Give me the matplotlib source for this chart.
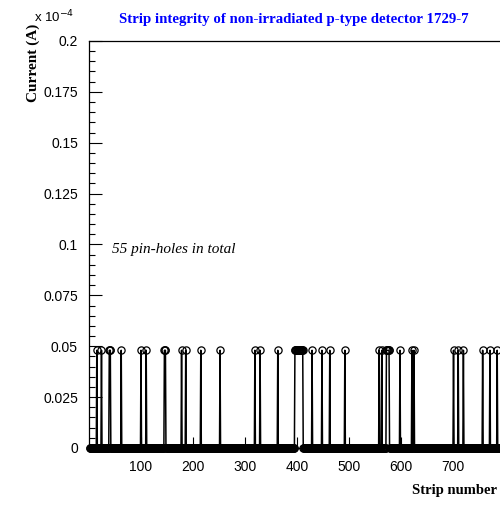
import numpy as np
import matplotlib
matplotlib.use('Agg')
import matplotlib.pyplot as plt
from matplotlib.ticker import MultipleLocator, FormatStrFormatter

# strips scanned and the ones that showed a pin-hole
n_strips = 800
pinhole_strips = [15, 24, 39, 40, 41, 62, 100, 110, 145, 146, 147, 178, 186, 215, 252,
                  319, 329, 363,
                  396, 397, 398, 399, 400, 401, 402, 403, 404, 405, 406, 407, 408, 409, 410, 411,
                  429, 448, 463, 492, 558, 563,
                  572, 573, 574, 575, 576, 577,
                  598, 621, 625, 701, 710, 720, 757, 771, 785]
pinhole_current = 0.048  # in units of 1e-4 A
y_ticks = [0, 0.025, 0.05, 0.075, 0.1, 0.125, 0.15, 0.175, 0.2]
x_ticks = [100, 200, 300, 400, 500, 600, 700]

strips = np.arange(1, n_strips + 1)
current = np.zeros(n_strips)
current[np.array(pinhole_strips) - 1] = pinhole_current

plt.rcParams['font.family'] = 'Liberation Sans'
fig = plt.figure(figsize=(5, 5.05), dpi=100)
ax = fig.add_axes([0.178, 0.1129, 0.832, 0.806])

ax.plot(strips, current, color='black', lw=1.1, marker='o', ms=5.2,
        mfc='none', mec='black', mew=0.9, clip_on=False, zorder=3)

ax.set_xlim(0, 800)
ax.set_ylim(0, 0.2)
ax.set_yticks(y_ticks)
ax.yaxis.set_major_formatter(FormatStrFormatter('%g'))
ax.yaxis.set_minor_locator(MultipleLocator(0.005))
ax.set_xticks(x_ticks)
ax.xaxis.set_minor_locator(MultipleLocator(20))
ax.tick_params(axis='both', which='both', direction='in', labelsize=10, width=0.8)
ax.tick_params(axis='y', which='major', length=9, pad=8)
ax.tick_params(axis='y', which='minor', length=4.5)
ax.tick_params(axis='x', which='major', length=8, pad=9)
ax.tick_params(axis='x', which='minor', length=3)
for sp in ax.spines.values():
    sp.set_linewidth(0.9)

fig.text(0.588, 0.961, 'Strip integrity of non-irradiated p-type detector 1729-7',
         ha='center', va='center', color='#0000ff', fontsize=10.7,
         fontweight='bold', family='Liberation Serif')
fig.text(0.068, 0.966, r'x 10$^{-4}$', ha='left', va='center', fontsize=9.5)
fig.text(0.066, 0.953, 'Current (A)', rotation=90, ha='center', va='top',
         fontsize=11, fontweight='bold', family='Liberation Serif')
fig.text(0.995, 0.015, 'Strip number', ha='right', va='bottom',
         fontsize=10.5, fontweight='bold', family='Liberation Serif')
ax.text(44, 0.0973, '55 pin-holes in total', ha='left', va='center',
        fontsize=11, style='italic', family='Liberation Serif')

fig.savefig('out.png', dpi=100)
